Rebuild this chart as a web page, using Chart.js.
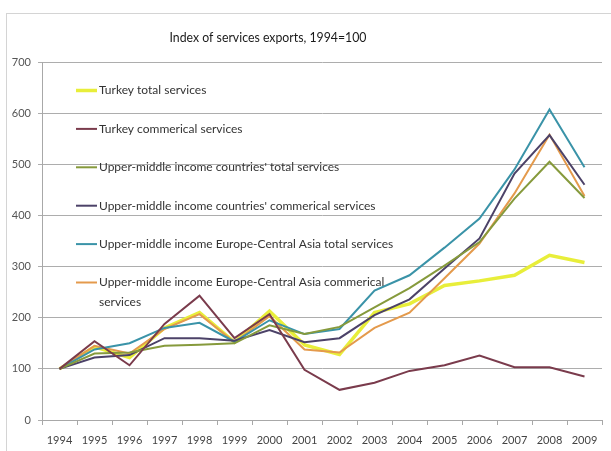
<!DOCTYPE html>
<html>
<head>
<meta charset="utf-8">
<script src="https://cdn.jsdelivr.net/npm/chart.js@4"></script>
<style>
html,body{margin:0;padding:0;background:#fff;}
#wrap{width:611px;height:451px;position:relative;}
</style>
</head>
<body>
<div id="wrap"><canvas id="c" width="611" height="451"></canvas></div>
<script>
const titleText = "Index of services exports, 1994=100";
const years = ["1994","1995","1996","1997","1998","1999","2000","2001","2002","2003","2004","2005","2006","2007","2008","2009"];
const seriesNames = [
  "Turkey total services",
  "Turkey commerical services",
  "Upper-middle income countries' total services",
  "Upper-middle income countries' commerical services",
  "Upper-middle income Europe-Central Asia total services",
  "Upper-middle income Europe-Central Asia commerical services"
];
const turkeyTotal = [100,143,122,180,210,152,213,147,128,210,227,263,272,283,322,308];
const turkeyComm  = [100,154,107,188,243,160,207,98,59,73,96,107,126,103,103,85];
const umiTotal    = [100,130,132,145,147,150,185,168,182,220,258,302,348,433,505,434];
const umiComm     = [100,122,127,160,160,155,176,152,160,205,236,296,355,482,557,460];
const ecaTotal    = [100,138,150,180,190,153,195,168,178,253,283,337,394,490,607,494];
const ecaComm     = [100,145,130,178,207,152,203,138,132,180,210,277,345,443,558,438];
const yTicks = [0,100,200,300,400,500,600,700];

const colors = ['#e8ee3a','#7a3b4c','#869a3c','#4c4268','#3a93a8','#e49a4c'];
const widths = [3.5,2,2,2,2,2];
const values = [turkeyTotal,turkeyComm,umiTotal,umiComm,ecaTotal,ecaComm];

const datasets = values.map((v,i)=>({
  label: seriesNames[i],
  data: v,
  borderColor: colors[i],
  backgroundColor: colors[i],
  borderWidth: widths[i],
  pointRadius: 0,
  pointHoverRadius: 0,
  tension: 0,
  fill: false
}));
datasets.forEach((d,i)=>{ d.order = i===0 ? 6 : (i===1 ? 0 : i); });

const FONT = "Lato, 'Open Sans', sans-serif";

const decor = {
  id: 'decor',
  beforeDraw(chart){
    const ctx = chart.ctx;
    ctx.save();
    ctx.fillStyle = '#fff';
    ctx.fillRect(0,0,chart.width,chart.height);
    ctx.strokeStyle = '#d4d4d4';
    ctx.lineWidth = 1;
    ctx.strokeRect(6.5,13.5,chart.width+20,chart.height+20);
    ctx.restore();
  },
  afterDraw(chart){
    const ctx = chart.ctx;
    ctx.save();
    // title, condensed horizontally to match the narrow original face
    ctx.font = "14px " + FONT;
    ctx.fillStyle = '#1a1a1a';
    ctx.textAlign = 'center';
    ctx.textBaseline = 'middle';
    const tw = ctx.measureText(titleText).width;
    const sx = Math.min(1, 197 / tw);
    ctx.save();
    ctx.translate(268, 37);
    ctx.scale(sx, 1);
    ctx.fillText(titleText, 0, 0);
    ctx.restore();
    // legend inside plot
    ctx.font = "12px " + FONT;
    ctx.textAlign = 'left';
    ctx.fillStyle = '#333';
    const x0 = 76, x1 = 97, tx = 99, y0 = 90.5, dy = 38.4, maxW = 300;
    chart.data.datasets.forEach((d,i)=>{
      const y = y0 + i*dy;
      ctx.strokeStyle = d.borderColor;
      ctx.lineWidth = d.borderWidth;
      ctx.beginPath(); ctx.moveTo(x0,y); ctx.lineTo(x1,y); ctx.stroke();
      const words = d.label.split(' ');
      let line = '', lines = [];
      words.forEach(w=>{
        const t = line ? line + ' ' + w : w;
        if (ctx.measureText(t).width > maxW && line){ lines.push(line); line = w; }
        else line = t;
      });
      lines.push(line);
      lines.forEach((l,k)=> ctx.fillText(l, tx, y + k*20));
    });
    ctx.restore();
  }
};

new Chart(document.getElementById('c'), {
  type: 'line',
  data: { labels: years, datasets },
  options: {
    responsive: false,
    animation: false,
    devicePixelRatio: 1,
    layout: { padding: { left: 6, right: 9, top: 62, bottom: 4 } },
    plugins: {
      legend: { display: false },
      title: { display: false },
      tooltip: { enabled: false }
    },
    scales: {
      x: {
        offset: true,
        grid: { display: true, drawOnChartArea: false, drawTicks: true, tickLength: 5, color: '#a8a8a8', offset: true },
        border: { display: true, color: '#a8a8a8', width: 1 },
        ticks: { font: { family: FONT, size: 11 }, color: '#444', padding: 9, maxRotation: 0, autoSkip: false },
        afterFit(s){ s.height = 27; }
      },
      y: {
        min: 0, max: 700,
        afterBuildTicks(s){ s.ticks = yTicks.map(v=>({value:v})); },
        grid: { color: '#adadad', lineWidth: 1, drawTicks: true, tickLength: 4 },
        border: { display: true, color: '#a8a8a8', width: 1 },
        ticks: { font: { family: FONT, size: 11 }, color: '#555', padding: 7 },
        afterFit(s){ s.width = 36; }
      }
    }
  },
  plugins: [decor]
});
</script>
</body>
</html>
